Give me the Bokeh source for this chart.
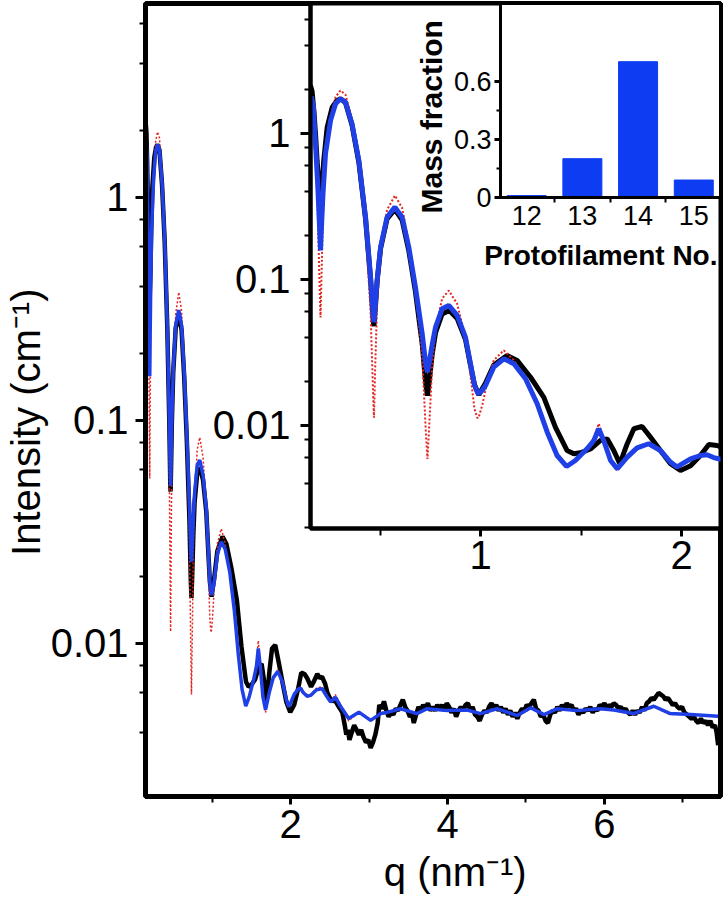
from bokeh.plotting import figure
from bokeh.models import (ColumnDataSource, Range1d, SingleIntervalTicker, FixedTicker,
                          LogTicker, CustomJSTickFormatter, GridBox, Title)
from bokeh.embed import file_html
from bokeh.resources import INLINE

# ---------------- data ----------------
q_fit = [0.158, 0.168, 0.179, 0.190, 0.198, 0.204, 0.210, 0.216, 0.229, 0.254,
         0.279, 0.303, 0.328, 0.361, 0.395, 0.428, 0.453, 0.466, 0.470, 0.476,
         0.486, 0.503, 0.535, 0.574, 0.610, 0.643, 0.676, 0.710, 0.728, 0.736,
         0.745, 0.760, 0.776, 0.809, 0.842, 0.884, 0.925, 0.950, 0.970, 0.985,
         0.992, 1.010, 1.025, 1.066, 1.116, 1.166, 1.224, 1.282, 1.332, 1.381,
         1.428, 1.472, 1.530, 1.564, 1.588, 1.613, 1.647, 1.680, 1.730, 1.779,
         1.837, 1.895, 1.945, 1.978, 2.045, 2.094, 2.127, 2.160, 2.210, 2.255,
         2.330, 2.400, 2.460, 2.510, 2.570, 2.640, 2.740, 2.870, 3.020, 3.150,
         3.240, 3.400, 3.610, 3.740, 4.000, 4.250, 4.420, 4.630, 4.890, 5.060,
         5.230, 5.400, 5.650, 5.950, 6.120, 6.370, 6.630, 6.840, 7.100, 7.450]

i_blue = [1.80, 1.55, 0.85, 0.45, 0.25, 0.158, 0.25, 0.38, 0.73, 1.23,
          1.60, 1.73, 1.64, 1.16, 0.65, 0.267, 0.104, 0.058, 0.051, 0.065,
          0.10, 0.167, 0.267, 0.313, 0.267, 0.167, 0.089, 0.0425, 0.026, 0.0232,
          0.027, 0.036, 0.047, 0.063, 0.0664, 0.0567, 0.0403, 0.0265, 0.019, 0.0168,
          0.0165, 0.0175, 0.0188, 0.0251, 0.0286, 0.0265, 0.0209, 0.0141, 0.0090, 0.00623,
          0.00524, 0.00576, 0.00692, 0.00789, 0.0095, 0.00789, 0.00576, 0.00505, 0.00607, 0.00703,
          0.0075, 0.00674, 0.00561, 0.0052, 0.00591, 0.00623, 0.0063, 0.00603, 0.0058, 0.00585,
          0.0062, 0.00627, 0.0058, 0.00546, 0.00575, 0.0052, 0.00461, 0.00492, 0.00452, 0.00485,
          0.00492, 0.0051, 0.00485, 0.0051, 0.0050, 0.00503, 0.00485, 0.0051, 0.00475, 0.00515,
          0.0048, 0.0051, 0.0050, 0.0051, 0.00503, 0.00485, 0.00523, 0.00485, 0.0048, 0.00472]

i_red = [1.77, 1.50, 0.75, 0.30, 0.11, 0.055, 0.12, 0.28, 0.70, 1.30,
         1.78, 1.97, 1.85, 1.25, 0.66, 0.23, 0.06, 0.016, 0.0113, 0.025,
         0.07, 0.16, 0.30, 0.376, 0.31, 0.18, 0.085, 0.030, 0.009, 0.0059,
         0.010, 0.026, 0.045, 0.074, 0.084, 0.068, 0.040, 0.022, 0.013, 0.0112,
         0.0115, 0.014, 0.0175, 0.028, 0.0327, 0.028, 0.0205, 0.014, 0.0090, 0.0063,
         0.0053, 0.0058, 0.0070, 0.0082, 0.0103, 0.0082, 0.0057, 0.0049, 0.0060, 0.0070,
         0.0076, 0.0068, 0.0056, 0.0052, 0.0059, 0.0063, 0.0064, 0.0061, 0.0059, 0.0059,
         0.0063, 0.0064, 0.0059, 0.0055, 0.0059, 0.0053, 0.0045, 0.0049, 0.0045, 0.0049,
         0.0049, 0.0051, 0.0048, 0.0051, 0.0050, 0.0050, 0.0048, 0.0051, 0.0047, 0.0051,
         0.0048, 0.0051, 0.0050, 0.0051, 0.0050, 0.0048, 0.0052, 0.0048, 0.0048, 0.0047]

q_exp = [0.154, 0.162, 0.171, 0.180, 0.187, 0.196, 0.204, 0.212, 0.220, 0.237,
         0.262, 0.285, 0.303, 0.328, 0.361, 0.395, 0.428, 0.453, 0.466, 0.470,
         0.476, 0.486, 0.503, 0.535, 0.574, 0.610, 0.643, 0.676, 0.710, 0.728,
         0.736, 0.745, 0.760, 0.776, 0.809, 0.845, 0.884, 0.925, 0.950, 0.970,
         0.992, 1.010, 1.025, 1.066, 1.132, 1.182, 1.249, 1.315, 1.373, 1.431,
         1.464, 1.497, 1.547, 1.597, 1.630, 1.663, 1.693, 1.730, 1.763, 1.804,
         1.846, 1.895, 1.945, 1.995, 2.045, 2.094, 2.136, 2.177, 2.210, 2.26,
         2.30, 2.34, 2.37, 2.40, 2.44, 2.47, 2.50, 2.53, 2.56, 2.60,
         2.63, 2.66, 2.69, 2.71, 2.73, 2.75, 2.78, 2.81, 2.84, 2.87,
         2.90, 2.93, 2.96, 2.99, 3.02, 3.05, 3.08, 3.11, 3.13, 3.16,
         3.19, 3.22, 3.25, 3.28, 3.31, 3.34, 3.37, 3.40, 3.43, 3.46,
         3.49, 3.52, 3.55, 3.57, 3.60, 3.63, 3.66, 3.69, 3.72, 3.75,
         3.78, 3.81, 3.84, 3.87, 3.90, 3.93, 3.96, 3.99, 4.02, 4.05,
         4.08, 4.11, 4.14, 4.17, 4.20, 4.23, 4.26, 4.29, 4.32, 4.35,
         4.38, 4.41, 4.44, 4.47, 4.50, 4.53, 4.56, 4.59, 4.62, 4.65,
         4.68, 4.71, 4.74, 4.77, 4.80, 4.83, 4.86, 4.89, 4.92, 4.95,
         4.98, 5.01, 5.04, 5.07, 5.10, 5.13, 5.16, 5.19, 5.22, 5.25,
         5.28, 5.31, 5.34, 5.37, 5.40, 5.43, 5.46, 5.49, 5.52, 5.55,
         5.58, 5.61, 5.64, 5.67, 5.70, 5.73, 5.76, 5.79, 5.82, 5.85,
         5.88, 5.91, 5.94, 5.97, 6.00, 6.03, 6.06, 6.09, 6.12, 6.15,
         6.18, 6.21, 6.24, 6.27, 6.30, 6.33, 6.36, 6.39, 6.42, 6.45,
         6.48, 6.51, 6.54, 6.57, 6.60, 6.63, 6.66, 6.69, 6.72, 6.75,
         6.78, 6.81, 6.84, 6.87, 6.90, 6.93, 6.96, 6.99, 7.02, 7.05,
         7.08, 7.11, 7.14, 7.17, 7.20, 7.23, 7.26, 7.29, 7.32, 7.35,
         7.38, 7.41, 7.43, 7.45]

i_exp = [2.13, 1.95, 1.44, 0.95, 0.65, 0.45, 0.366, 0.45, 0.65, 1.10,
         1.51, 1.68, 1.73, 1.63, 1.14, 0.63, 0.26, 0.10, 0.052, 0.048,
         0.062, 0.098, 0.163, 0.26, 0.302, 0.255, 0.158, 0.083, 0.036, 0.019,
         0.016, 0.020, 0.031, 0.043, 0.058, 0.0613, 0.054, 0.039, 0.026, 0.019,
         0.0162, 0.018, 0.0195, 0.026, 0.0302, 0.0279, 0.0214, 0.0156, 0.0097, 0.00674,
         0.0064, 0.0065, 0.0069, 0.0079, 0.0081, 0.00674, 0.00547, 0.0075, 0.0095, 0.00985,
         0.0083, 0.00674, 0.00547, 0.00492, 0.0053, 0.00623, 0.0074, 0.0073, 0.0070, 0.0064,
         0.0068, 0.0073, 0.0070, 0.0071, 0.0066, 0.0060, 0.0057, 0.0055, 0.0056, 0.0053,
         0.0051, 0.0049, 0.0043, 0.0039, 0.0041, 0.0037, 0.0040, 0.0043, 0.0041, 0.0039,
         0.0041, 0.0038, 0.0036, 0.0037, 0.0034, 0.0036, 0.0039, 0.0044, 0.0053, 0.0051,
         0.0055, 0.0050, 0.0047, 0.0049, 0.0048, 0.0051, 0.0050, 0.0053, 0.0056, 0.0052,
         0.0050, 0.0047, 0.0048, 0.0044, 0.0048, 0.0052, 0.0050, 0.0053, 0.0051, 0.0054,
         0.0050, 0.0052, 0.0050, 0.0053, 0.0051, 0.0053, 0.0050, 0.0054, 0.0052, 0.0049,
         0.0051, 0.0047, 0.0050, 0.0052, 0.0050, 0.0053, 0.0054, 0.0050, 0.0052, 0.0048,
         0.0047, 0.0045, 0.0048, 0.0050, 0.0049, 0.0052, 0.0054, 0.0051, 0.0053, 0.0050,
         0.0052, 0.0049, 0.0051, 0.0048, 0.0050, 0.0047, 0.0049, 0.0046, 0.0049, 0.0051,
         0.0050, 0.0053, 0.0052, 0.0054, 0.0056, 0.0051, 0.0050, 0.0047, 0.0048, 0.0045,
         0.0044, 0.0048, 0.0050, 0.0049, 0.0052, 0.0050, 0.0053, 0.0051, 0.0054, 0.0052,
         0.0053, 0.0050, 0.0051, 0.0048, 0.0050, 0.0049, 0.0051, 0.0050, 0.0052, 0.0049,
         0.0051, 0.0050, 0.0053, 0.0052, 0.0054, 0.0051, 0.0053, 0.0052, 0.0054, 0.0053,
         0.0051, 0.0052, 0.0050, 0.0051, 0.0049, 0.0048, 0.0050, 0.0048, 0.0050, 0.0049,
         0.0052, 0.0050, 0.0054, 0.0055, 0.0057, 0.0056, 0.0058, 0.0060, 0.0059, 0.0058,
         0.0056, 0.0057, 0.0055, 0.0053, 0.0054, 0.0052, 0.0051, 0.0052, 0.0049, 0.0048,
         0.0047, 0.0046, 0.0047, 0.0045, 0.0044, 0.0046, 0.0044, 0.0045, 0.0043, 0.0045,
         0.0042, 0.0043, 0.0040, 0.0035]

protofilaments = [12, 13, 14, 15]
mass_fraction = [0.01, 0.20, 0.70, 0.09]

# ---------------- styling ----------------
FONT = "Liberation Sans"
BLUE = "#1f40e6"
RED = "#e3261f"
BAR = "#0d3cf2"

fit_src = ColumnDataSource(dict(q=q_fit, blue=i_blue, red=i_red))
exp_src = ColumnDataSource(dict(q=q_exp, i=i_exp))
bar_src = ColumnDataSource(dict(n=protofilaments, f=mass_fraction))

fmt = CustomJSTickFormatter(code="return String(Number(tick.toPrecision(4)));")


def style_axis(ax, lw, font_size, major_out, minor_out, standoff):
    ax.axis_line_width = lw
    ax.axis_line_color = "black"
    ax.major_tick_line_width = 3
    ax.minor_tick_line_width = 2
    ax.major_tick_in = 0
    ax.minor_tick_in = 0
    ax.major_tick_out = major_out
    ax.minor_tick_out = minor_out
    ax.major_label_text_font = FONT
    ax.major_label_text_font_size = font_size
    ax.major_label_text_color = "black"
    ax.major_label_standoff = standoff
    ax.axis_label_text_font = FONT
    ax.axis_label_text_color = "black"


def base_fig(w, h, xr, yr, ylog, ml, mr, mt, mb, lw):
    p = figure(width=w, height=h, x_range=xr, y_range=yr,
               y_axis_type="log" if ylog else "linear",
               output_backend="svg", toolbar_location=None,
               min_border_left=ml, min_border_right=mr,
               min_border_top=mt, min_border_bottom=mb)
    p.grid.visible = False
    p.outline_line_color = "black"
    p.outline_line_width = lw
    p.outline_line_alpha = 1.0
    p.background_fill_color = "white"
    return p


# ---------------- main plot ----------------
main = base_fig(724, 912, Range1d(0.15, 7.48), Range1d(0.00206, 7.41), True,
                145, 4, 3, 116, 5)
main.border_fill_color = "white"
main.xaxis.ticker = SingleIntervalTicker(interval=2, num_minor_ticks=2)
main.yaxis.ticker = LogTicker(desired_num_ticks=6)
main.yaxis.formatter = fmt
style_axis(main.xaxis[0], 5, "40px", 8, 6, 5)
style_axis(main.yaxis[0], 5, "40px", 10, 6, 7)
main.xaxis.axis_label = "\u00a0" * 4 + "q (nm\u207b\u00b9)"
main.yaxis.axis_label = "Intensity (cm\u207b\u00b9)" + "\u00a0" * 4
for ax in (main.xaxis[0], main.yaxis[0]):
    ax.axis_label_text_font_size = "40px"
    ax.axis_label_text_font_style = "normal"
main.xaxis.axis_label_standoff = 9
main.yaxis.axis_label_standoff = 0

main.line("q", "i", source=exp_src, line_color="black", line_width=4.5)
main.line("q", "red", source=fit_src, line_color=RED, line_width=1.5, line_dash="2 2")
main.line("q", "blue", source=fit_src, line_color=BLUE, line_width=3.5)

# ---------------- inset: low-q zoom ----------------
inset = base_fig(524, 590, Range1d(0.1542, 2.194), Range1d(0.00197, 7.77), True,
                 110, 4, 3, 62, 4)
inset.border_fill_color = None
inset.xaxis.ticker = SingleIntervalTicker(interval=1, num_minor_ticks=2)
inset.yaxis.ticker = LogTicker(desired_num_ticks=6)
inset.yaxis.formatter = fmt
style_axis(inset.xaxis[0], 4, "40px", 8, 7, 4)
style_axis(inset.yaxis[0], 4, "40px", 10, 6, 10)

inset.line("q", "i", source=exp_src, line_color="black", line_width=5)
inset.line("q", "red", source=fit_src, line_color=RED, line_width=2, line_dash="2 2")
inset.line("q", "blue", source=fit_src, line_color=BLUE, line_width=5)

# ---------------- bar inset ----------------
bar = base_fig(314, 292, Range1d(11.53, 15.48), Range1d(0, 1.0), False,
               87, 4, 3, 95, 3)
bar.border_fill_color = None
bar.vbar(x="n", top="f", source=bar_src, width=0.7, fill_color=BAR, line_color=BAR)
bar.xaxis.ticker = FixedTicker(ticks=protofilaments,
                               minor_ticks=[n + 0.5 for n in protofilaments[:-1]])
bar.yaxis.ticker = FixedTicker(ticks=[0, 0.3, 0.6], minor_ticks=[0.15, 0.45])
bar.yaxis.formatter = fmt
style_axis(bar.xaxis[0], 3, "27px", 0, 5, 3)
style_axis(bar.yaxis[0], 3, "27px", 6, 4, 3)

bar.add_layout(Title(text="Protofilament No.", align="right", offset=3,
                     vertical_align="top", standoff=24,
                     text_font=FONT, text_font_size="28px", text_font_style="bold",
                     text_color="black"), "below")
bar.add_layout(Title(text="Mass fraction", align="left", offset=-16,
                     vertical_align="bottom", standoff=5,
                     text_font=FONT, text_font_size="30px", text_font_style="bold",
                     text_color="black"), "left")

layout = GridBox(children=[(main, 0, 0, 3, 3), (inset, 0, 1, 2, 2), (bar, 0, 2, 1, 1)],
                 cols=["200px", "210px", "314px"], rows=["292px", "298px", "322px"],
                 spacing=0)

open("out.html", "w").write(file_html(layout, INLINE))
